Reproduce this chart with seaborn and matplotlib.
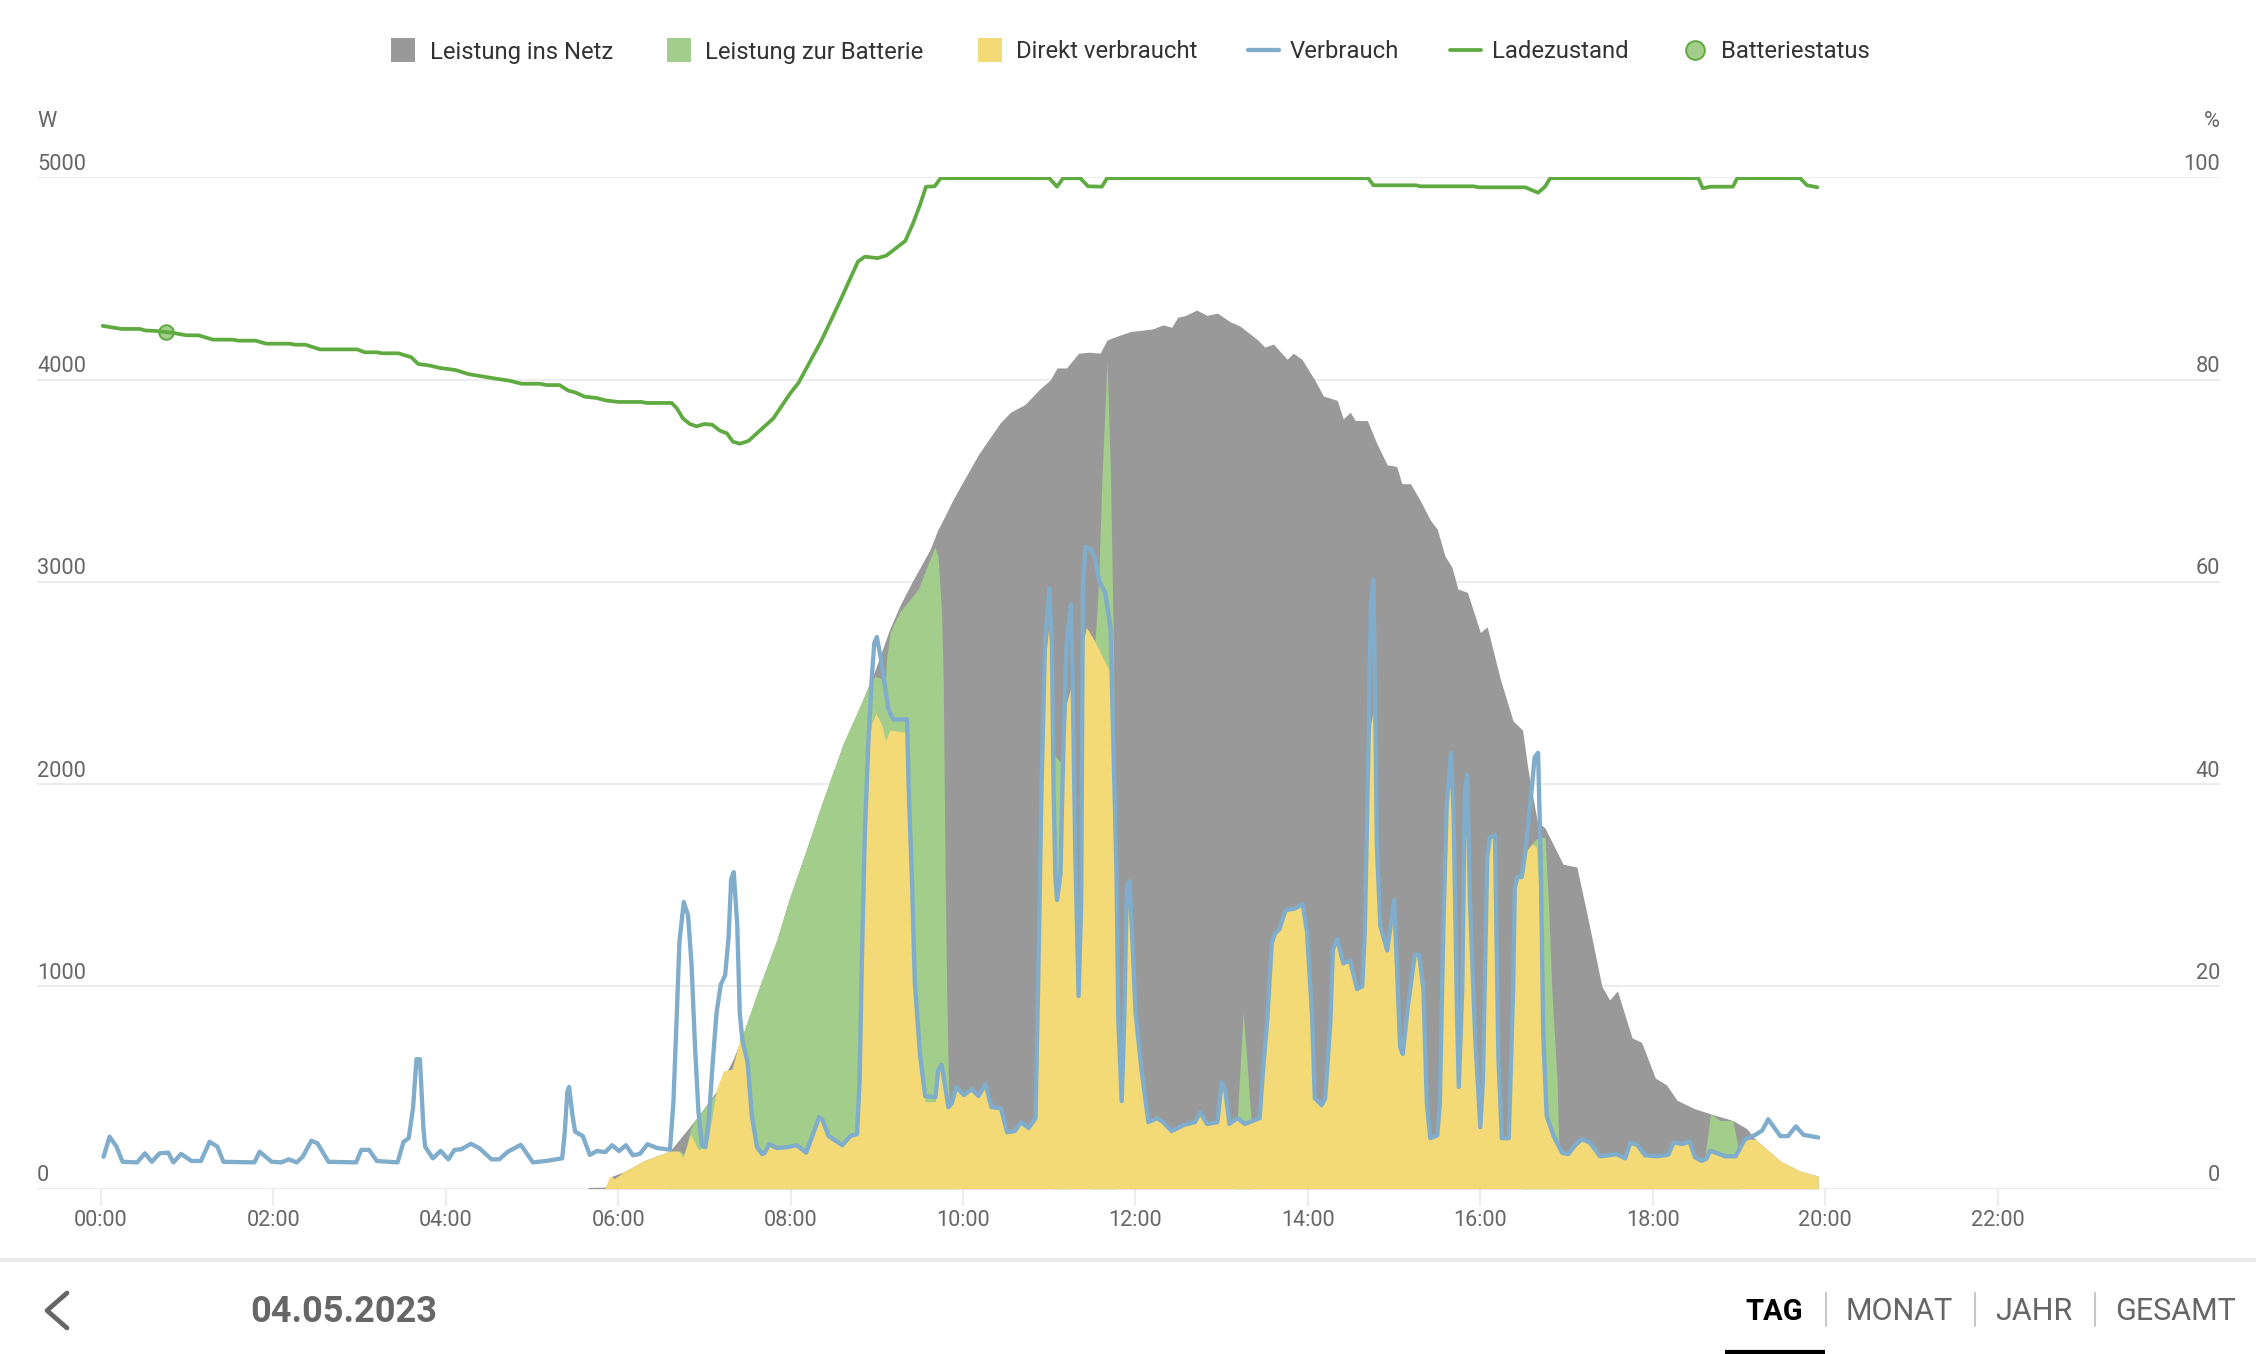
"""PV day view for 04.05.2023: power flows (W) and battery charge state (%)."""

import matplotlib
matplotlib.use("Agg")
import matplotlib.pyplot as plt
from matplotlib.lines import Line2D
from matplotlib.transforms import ScaledTranslation
import pandas as pd
import seaborn as sns

# Gesamtleistung (top of the grey area)
gesamt_h = [5.65, 5.85, 5.93, 6.06, 6.14, 6.29, 6.6, 6.91, 7.14, 7.33, 7.44, 7.64, 7.84, 7.99,
            8.19, 8.38, 8.61, 8.81, 8.98, 9.15, 9.27, 9.42, 9.62, 9.7, 9.79, 9.88, 9.98, 10.18,
            10.43, 10.55, 10.72, 10.89, 11.01, 11.09, 11.2, 11.34, 11.47, 11.59, 11.67, 11.76, 11.94,
            12.2, 12.32, 12.42, 12.49, 12.57, 12.71, 12.83, 12.95, 13.1, 13.21, 13.42, 13.5,
            13.6, 13.76, 13.83, 13.93, 14.08, 14.18, 14.34, 14.41, 14.49, 14.55, 14.69, 14.8,
            14.92, 15.03, 15.09, 15.19, 15.3, 15.42, 15.5, 15.59, 15.67, 15.74, 15.85, 16.0,
            16.08, 16.23, 16.38, 16.49, 16.55, 16.66, 16.75, 16.96, 17.12, 17.24, 17.41, 17.5,
            17.59, 17.76, 17.87, 18.03, 18.16, 18.28, 18.47, 18.67, 18.93, 19.09, 19.19, 19.33,
            19.48, 19.71, 19.92]
gesamt_w = [6, 8, 62, 83, 100, 137, 186, 349, 482, 637, 755, 1000, 1230, 1440,
            1685, 1925, 2200, 2390, 2565, 2767, 2885, 3008, 3162, 3250, 3325, 3403, 3480, 3630,
            3785, 3838, 3877, 3953, 3997, 4057, 4057, 4130, 4135, 4130, 4195, 4210, 4237,
            4250, 4270, 4258, 4308, 4315, 4343, 4317, 4328, 4285, 4265, 4195, 4160,
            4175, 4100, 4130, 4100, 3997, 3918, 3897, 3805, 3838, 3797, 3797, 3683,
            3578, 3570, 3485, 3485, 3404, 3305, 3260, 3127, 3073, 2964, 2948, 2750,
            2777, 2522, 2312, 2267, 2080, 1817, 1783, 1604, 1590, 1352, 1000, 933,
            978, 745, 724, 547, 513, 438, 398, 370, 337, 297, 245, 192,
            136, 87, 62]

# Leistung zur Batterie (green area, stacked on the direct share)
batterie_h = [6.55, 6.6, 6.72, 6.77, 6.84, 6.91, 7.0, 7.14, 7.2, 7.38, 7.41, 7.44, 7.64, 7.84,
              7.99, 8.19, 8.38, 8.61, 8.81, 8.9, 8.98, 9.06, 9.1, 9.11, 9.15, 9.19, 9.27, 9.48,
              9.58, 9.67, 9.71, 9.75, 9.77, 9.79, 9.81, 9.83, 9.84, 9.85,
              11.04, 11.05, 11.14, 11.15,
              11.5, 11.53, 11.57, 11.61, 11.67, 11.71, 11.74, 11.75, 11.76,
              13.17, 13.18, 13.25, 13.34, 13.35,
              16.5, 16.54, 16.6, 16.65, 16.75, 16.79, 16.83, 16.89, 16.91, 16.92,
              18.59, 18.6, 18.67, 18.78, 18.93, 18.99, 19.0]
batterie_w = [0, 186, 186, 165, 300, 349, 400, 470, 400, 500, 735, 755, 1000, 1230,
              1440, 1685, 1925, 2200, 2390, 2480, 2533, 2520, 2500, 2610, 2740, 2786, 2853, 2964,
              3073, 3172, 3126, 2850, 2522, 1640, 978, 537, 403, 0,
              0, 2150, 2100, 0,
              0, 2705, 2975, 3500, 4095, 3540, 2775, 2400, 0,
              0, 349, 873, 349, 0,
              0, 1673, 1705, 1730, 1738, 1417, 978, 537, 225, 0,
              0, 137, 370, 337, 337, 205, 0]

# Direkt verbraucht (yellow area)
direkt_h = [5.85, 5.9, 5.96, 6.06, 6.14, 6.29, 6.6, 6.7, 6.75, 6.84, 6.93, 7.03, 7.14, 7.22, 7.32,
            7.41, 7.44, 7.5, 7.55, 7.61, 7.67, 7.7, 7.75, 7.84, 7.96, 8.07, 8.18, 8.26, 8.33, 8.37,
            8.44, 8.6, 8.69, 8.77, 8.8, 8.83, 8.86, 8.9, 8.94, 8.99, 9.06, 9.1, 9.15, 9.35, 9.37,
            9.41, 9.44, 9.5, 9.56, 9.68, 9.71, 9.75, 9.79, 9.83, 9.87, 9.92, 10.01, 10.1, 10.18,
            10.26, 10.33, 10.44, 10.51, 10.6, 10.67, 10.76, 10.84, 10.87, 10.91, 10.95, 11.0,
            11.03, 11.05, 11.07, 11.09, 11.13, 11.16, 11.2, 11.25, 11.27, 11.3, 11.34, 11.37,
            11.39, 11.43, 11.53, 11.63, 11.71, 11.74, 11.78, 11.8, 11.84, 11.87, 11.9, 11.93,
            11.96, 12.0, 12.07, 12.15, 12.25, 12.32, 12.42, 12.56, 12.69, 12.75, 12.83, 12.95,
            13.0, 13.04, 13.09, 13.18, 13.27, 13.44, 13.48, 13.53, 13.58, 13.62, 13.67, 13.74,
            13.85, 13.94, 13.99, 14.05, 14.08, 14.16, 14.2, 14.26, 14.29, 14.34, 14.41, 14.49,
            14.57, 14.63, 14.66, 14.7, 14.73, 14.76, 14.78, 14.8, 14.84, 14.92, 14.95, 15.0,
            15.03, 15.07, 15.1, 15.16, 15.24, 15.29, 15.34, 15.38, 15.42, 15.5, 15.53, 15.57,
            15.61, 15.66, 15.69, 15.73, 15.75, 15.79, 15.82, 15.85, 15.88, 15.94, 16.0, 16.03,
            16.08, 16.11, 16.17, 16.21, 16.25, 16.33, 16.38, 16.4, 16.43, 16.48, 16.54, 16.6,
            16.65, 16.7, 16.73, 16.77, 16.85, 16.95, 17.02, 17.1, 17.18, 17.27, 17.39, 17.49,
            17.58, 17.68, 17.74, 17.82, 17.91, 18.05, 18.18, 18.24, 18.34, 18.43, 18.49, 18.57,
            18.62, 18.67, 18.84, 18.96, 19.07, 19.19, 19.33, 19.48, 19.71, 19.92]
direkt_w = [5, 62, 50, 83, 100, 137, 186, 186, 155, 270, 193, 205, 492, 582, 591,
            735, 735, 625, 360, 205, 171, 178, 220, 201, 205, 215, 178, 270, 354, 339,
            260, 215, 260, 270, 537, 1200, 1748, 2192, 2300, 2350, 2290, 2213, 2267, 2256, 1970,
            1487, 1020, 666, 430, 430, 582, 612, 512, 403, 423, 503, 463, 492, 458,
            517, 403, 398, 279, 285, 329, 300, 349, 987, 1981, 2600, 2800,
            2600, 1981, 1555, 1427, 1555, 2123, 2400, 2480, 2400, 1698, 952, 1412,
            2700, 2775, 2705, 2617, 2550, 2262, 1555, 843, 433, 843, 1496, 1520,
            1270, 873, 588, 329, 349, 329, 285, 315, 329, 378, 320, 329,
            527, 492, 320, 349, 320, 349, 588, 843, 1213, 1263, 1283, 1377,
            1385, 1407, 1270, 843, 447, 413, 447, 818, 1183, 1235, 1114, 1128,
            987, 1000, 1270, 2123, 2300, 2365, 2300, 1698, 1300, 1178, 1270, 1427,
            1128, 700, 666, 903, 1157, 1157, 987, 419, 250, 264, 419, 1270,
            1896, 2100, 1860, 868, 503, 978, 1970, 2000, 1417, 755, 304, 537,
            1640, 1735, 1748, 645, 250, 250, 978, 1487, 1540, 1540, 1673, 1705,
            1690, 1300, 755, 360, 260, 177, 171, 215, 245, 228, 160, 165,
            171, 150, 228, 217, 165, 160, 168, 228, 221, 233, 155, 137,
            148, 188, 160, 160, 245, 245, 192, 136, 87, 62]

# Verbrauch (blue line)
verbrauch_h = [0.03, 0.1, 0.18, 0.25, 0.42, 0.51, 0.59, 0.68, 0.78, 0.84, 0.93, 1.05, 1.16, 1.26,
               1.35, 1.42, 1.78, 1.84, 1.98, 2.09, 2.18, 2.27, 2.34, 2.44, 2.51, 2.64, 2.96, 3.02,
               3.11, 3.2, 3.44, 3.51, 3.57, 3.62, 3.66, 3.7, 3.74, 3.76, 3.85, 3.94, 4.03, 4.1,
               4.18, 4.29, 4.39, 4.53, 4.62, 4.72, 4.87, 5.01, 5.16, 5.35, 5.38, 5.41, 5.43, 5.47,
               5.5, 5.59, 5.67, 5.75, 5.85, 5.93, 6.01, 6.09, 6.17, 6.25, 6.34, 6.45, 6.6, 6.64,
               6.68, 6.71, 6.76, 6.81, 6.85, 6.89, 6.93, 6.97, 7.01, 7.05, 7.1, 7.14, 7.19, 7.24,
               7.28, 7.31, 7.34, 7.38, 7.41, 7.44, 7.5, 7.55, 7.61, 7.67, 7.7, 7.75, 7.84, 7.96,
               8.07, 8.18, 8.26, 8.33, 8.37, 8.44, 8.6, 8.69, 8.77, 8.8, 8.83, 8.86, 8.9, 8.94,
               8.97, 9.0, 9.06, 9.13, 9.19, 9.35, 9.37, 9.41, 9.44, 9.5, 9.56, 9.68, 9.71, 9.75,
               9.79, 9.83, 9.87, 9.92, 10.01, 10.1, 10.18, 10.26, 10.33, 10.44, 10.51, 10.6, 10.67,
               10.76, 10.84, 10.87, 10.91, 10.95, 11.0, 11.03, 11.05, 11.07, 11.09, 11.13, 11.16,
               11.2, 11.25, 11.27, 11.3, 11.34, 11.37, 11.39, 11.42, 11.49, 11.53, 11.58, 11.65,
               11.71, 11.74, 11.78, 11.8, 11.84, 11.87, 11.9, 11.93, 11.96, 12.0, 12.07, 12.15,
               12.25, 12.32, 12.42, 12.56, 12.69, 12.75, 12.83, 12.95, 13.0, 13.04, 13.09, 13.18,
               13.27, 13.44, 13.48, 13.53, 13.58, 13.62, 13.67, 13.74, 13.85, 13.94, 13.99, 14.05,
               14.08, 14.16, 14.2, 14.26, 14.29, 14.34, 14.41, 14.49, 14.57, 14.63, 14.66, 14.7,
               14.73, 14.76, 14.78, 14.8, 14.84, 14.92, 14.95, 15.0, 15.03, 15.07, 15.1, 15.16,
               15.24, 15.29, 15.34, 15.38, 15.42, 15.5, 15.53, 15.57, 15.61, 15.66, 15.69, 15.73,
               15.75, 15.79, 15.82, 15.85, 15.88, 15.94, 16.0, 16.03, 16.08, 16.11, 16.17, 16.21,
               16.25, 16.33, 16.38, 16.4, 16.43, 16.48, 16.52, 16.6, 16.63, 16.67, 16.7, 16.73,
               16.77, 16.85, 16.95, 17.02, 17.1, 17.18, 17.27, 17.39, 17.49, 17.58, 17.68, 17.74,
               17.82, 17.91, 18.05, 18.18, 18.24, 18.34, 18.43, 18.49, 18.57, 18.62, 18.67, 18.84,
               18.96, 19.07, 19.19, 19.27, 19.34, 19.48, 19.57, 19.66, 19.75, 19.92]
verbrauch_w = [158, 257, 208, 133, 130, 175, 133, 175, 178, 130, 172, 137, 137, 232,
               208, 133, 130, 183, 133, 130, 145, 130, 158, 237, 225, 133, 130, 192,
               192, 137, 130, 232, 250, 400, 640, 640, 300, 208, 150, 187, 145, 192,
               195, 222, 200, 145, 145, 183, 217, 130, 137, 150, 280, 480, 503, 360,
               282, 260, 167, 186, 181, 215, 186, 215, 165, 172, 220, 201, 193, 425,
               868, 1220, 1417, 1352, 1110, 710, 383, 215, 205, 340, 645, 868, 1010, 1055,
               1243, 1530, 1565, 1308, 868, 735, 625, 360, 205, 171, 178, 220, 201, 205,
               215, 178, 270, 354, 339, 260, 215, 260, 270, 537, 1200, 1748, 2192, 2518,
               2697, 2727, 2588, 2375, 2320, 2320, 1970, 1487, 1020, 666, 458, 453, 582, 612,
               512, 403, 423, 503, 463, 492, 458, 517, 403, 398, 279, 285, 329,
               300, 349, 987, 1981, 2692, 2966, 2692, 1981, 1555, 1427, 1555, 2123,
               2692, 2890, 2550, 1698, 952, 1412, 2973, 3172, 3157, 3117, 3002, 2944,
               2775, 2262, 1555, 843, 433, 843, 1496, 1520, 1270, 873, 588, 329,
               349, 329, 285, 315, 329, 378, 320, 329, 527, 492, 320, 349,
               320, 349, 588, 843, 1213, 1263, 1283, 1377, 1385, 1407, 1270, 843,
               447, 413, 447, 818, 1183, 1235, 1114, 1128, 987, 1000, 1270, 2123,
               2890, 3010, 2408, 1698, 1300, 1178, 1270, 1427, 1128, 700, 666, 903,
               1157, 1157, 987, 419, 250, 264, 419, 1270, 1896, 2155, 1860, 868,
               503, 978, 1970, 2045, 1417, 755, 304, 537, 1640, 1735, 1748, 645,
               250, 250, 978, 1487, 1540, 1540, 1660, 1990, 2133, 2155, 1640, 755,
               360, 260, 177, 171, 215, 245, 228, 160, 165, 171, 150, 228,
               217, 165, 160, 168, 228, 221, 233, 155, 137, 148, 188, 160,
               160, 245, 266, 288, 343, 260, 260, 308, 266, 253]

# Ladezustand (green line, right axis)
ladezustand_h = [0.02, 0.24, 0.45, 0.51, 0.63, 0.82, 0.99, 1.13, 1.3, 1.53, 1.59, 1.79, 1.92, 2.19,
                 2.25, 2.37, 2.54, 2.97, 3.06, 3.2, 3.26, 3.45, 3.6, 3.68, 3.82, 3.93, 4.11, 4.26,
                 4.51, 4.74, 4.88, 5.09, 5.17, 5.32, 5.42, 5.5, 5.61, 5.75, 5.85, 6.0, 6.27, 6.33,
                 6.62, 6.68, 6.75, 6.83, 6.91, 7.0, 7.09, 7.18, 7.26, 7.33, 7.41, 7.51, 7.8, 7.99,
                 8.09, 8.36, 8.57, 8.78, 8.86, 9.01, 9.11, 9.33, 9.42, 9.5, 9.57, 9.67, 9.74, 11.0,
                 11.09, 11.16, 11.36, 11.45, 11.61, 11.67, 14.7, 14.76, 15.26, 15.3, 15.92, 15.98,
                 16.52, 16.67, 16.75, 16.81, 18.53, 18.58, 18.67, 18.93, 18.98, 19.71, 19.79, 19.91]
ladezustand_p = [85.3, 85.0, 85.0, 84.85, 84.8, 84.63, 84.37, 84.37, 83.94, 83.94, 83.84, 83.84, 83.54, 83.54,
                 83.44, 83.44, 82.98, 82.98, 82.69, 82.69, 82.59, 82.59, 82.2, 81.53, 81.37, 81.14, 80.94, 80.54,
                 80.18, 79.88, 79.58, 79.58, 79.45, 79.45, 78.9, 78.73, 78.3, 78.17, 77.94, 77.78, 77.78, 77.68,
                 77.68, 77.15, 76.16, 75.6, 75.37, 75.6, 75.53, 74.94, 74.68, 73.85, 73.65, 73.92, 76.16, 78.57,
                 79.65, 83.9, 87.7, 91.65, 92.14, 92.0, 92.25, 93.7, 95.44, 97.25, 99.06, 99.1, 99.9, 99.9,
                 99.06, 99.9, 99.9, 99.1, 99.06, 99.9, 99.9, 99.2, 99.2, 99.1, 99.1, 99.0,
                 99.0, 98.47, 99.06, 99.9, 99.9, 98.9, 99.06, 99.06, 99.9, 99.9, 99.2, 99.0]

# Batteriestatus marker
status_h = [0.75]
status_p = [84.7]

watt_ticks = [0, 1000, 2000, 3000, 4000, 5000]
prozent_ticks = [0, 20, 40, 60, 80, 100]
stunden_ticks = [0, 2, 4, 6, 8, 10, 12, 14, 16, 18, 20, 22]
stunden_labels = ["00:00", "02:00", "04:00", "06:00", "08:00", "10:00",
                  "12:00", "14:00", "16:00", "18:00", "20:00", "22:00"]

GRAU = "#999999"
GRUEN = "#A2CD8A"
GELB = "#F4D977"
BLAU = "#7FADCB"
LADE = "#5FAB41"
RASTER = "#ECECEC"
TEXT = "#666666"

sns.set_theme(style="white")
plt.rcParams["font.family"] = ["Roboto", "DejaVu Sans"]

W, H = 2256, 1354
fig = plt.figure(figsize=(W / 100, H / 100), dpi=100, facecolor="white")
left, right, top, bottom = 37, 2220, 177.2, 1188.7
ax = fig.add_axes([left / W, 1 - bottom / H, (right - left) / W, (bottom - top) / H])
ax.set_xlim(-0.742, 24.58)
ax.set_ylim(0, 5000)

# areas are painted back to front, each from the baseline
ax.fill_between(gesamt_h, gesamt_w, color=GRAU, linewidth=0, zorder=2)
ax.fill_between(batterie_h, batterie_w, color=GRUEN, linewidth=0, zorder=3)
ax.fill_between(direkt_h, direkt_w, color=GELB, linewidth=0, zorder=4)

verbrauch = pd.DataFrame({"h": verbrauch_h, "w": verbrauch_w})
sns.lineplot(data=verbrauch, x="h", y="w", ax=ax, color=BLAU, linewidth=3.1,
             estimator=None, zorder=5)

ax.set_xlabel("")
ax.set_ylabel("")
ax.set_xticks(stunden_ticks)
ax.set_xticklabels(stunden_labels)
ax.set_yticks(watt_ticks)
ax.yaxis.grid(True, color=RASTER, linewidth=1.5, zorder=1)
ax.set_axisbelow(True)
ax.tick_params(axis="x", length=12.5, width=1.5, color=RASTER, labelcolor=TEXT,
               labelsize=15.6, pad=2.5, bottom=True)
ax.tick_params(axis="y", length=0, labelcolor=TEXT, labelsize=15.7, pad=0)
for spine in ax.spines.values():
    spine.set_visible(False)

ax2 = ax.twinx()
ax2.set_ylim(0, 100)
ax2.set_yticks(prozent_ticks)
ax2.tick_params(axis="y", length=0, labelcolor=TEXT, labelsize=15.7, pad=0)
ax2.grid(False)
for spine in ax2.spines.values():
    spine.set_visible(False)

sns.scatterplot(x=status_h, y=status_p, ax=ax2, s=110, color=GRUEN, edgecolor=LADE,
                linewidth=1.4, zorder=6, legend=False)
ladezustand = pd.DataFrame({"h": ladezustand_h, "p": ladezustand_p})
sns.lineplot(data=ladezustand, x="h", y="p", ax=ax2, color=LADE, linewidth=2.7,
             estimator=None, zorder=7)
ax2.set_xlabel("")
ax2.set_ylabel("")

# y labels sit inside the plot, just above their grid line
hoch = ScaledTranslation(0, 5.4 / 72, fig.dpi_scale_trans)
for lab in ax.get_yticklabels():
    lab.set_ha("left")
    lab.set_va("baseline")
    lab.set_transform(lab.get_transform() + hoch)
for lab in ax2.get_yticklabels():
    lab.set_ha("right")
    lab.set_va("baseline")
    lab.set_transform(lab.get_transform() + hoch)

handles = [
    Line2D([], [], linestyle="None", marker="s", markersize=17.3, markerfacecolor=GRAU,
           markeredgewidth=0, label="Leistung ins Netz"),
    Line2D([], [], linestyle="None", marker="s", markersize=17.3, markerfacecolor=GRUEN,
           markeredgewidth=0, label="Leistung zur Batterie"),
    Line2D([], [], linestyle="None", marker="s", markersize=17.3, markerfacecolor=GELB,
           markeredgewidth=0, label="Direkt verbraucht"),
    Line2D([], [], color=BLAU, linewidth=3.1, label="Verbrauch"),
    Line2D([], [], color=LADE, linewidth=2.7, label="Ladezustand"),
    Line2D([], [], linestyle="None", marker="o", markersize=13.5, markerfacecolor=GRUEN,
           markeredgecolor=LADE, markeredgewidth=1.4, label="Batteriestatus"),
]
fig.legend(handles=handles, ncol=6, loc="center", bbox_to_anchor=(1129 / W, 1 - 52 / H),
           frameon=False, fontsize=17.2, labelcolor="#333333", handlelength=1.29,
           handletextpad=0.46, columnspacing=2.125, borderpad=0, borderaxespad=0, numpoints=1)

# footer and unit labels, laid out in image pixels
ui = fig.add_axes([0, 0, 1, 1], zorder=-1)
ui.set_xlim(0, W)
ui.set_ylim(H, 0)
ui.axis("off")
ui.text(37, 121.5, "W", color=TEXT, fontsize=15.7, ha="left", va="center")
ui.text(2220, 121.5, "%", color=TEXT, fontsize=15.7, ha="right", va="center")
ui.plot([0, W], [1260, 1260], color=RASTER, linewidth=2.9)
ui.plot([67, 47, 67], [1293, 1310.5, 1328], color=TEXT, linewidth=3.4)
ui.text(250, 1311.5, "04.05.2023", color=TEXT, fontsize=26, fontweight="bold", ha="left", va="center")
ui.text(1745, 1311.5, "TAG", color="black", fontsize=21, fontweight="bold", ha="left", va="center")
ui.text(1846, 1311.5, "MONAT", color=TEXT, fontsize=22, ha="left", va="center")
ui.text(1995, 1311.5, "JAHR", color=TEXT, fontsize=22, ha="left", va="center")
ui.text(2115, 1311.5, "GESAMT", color=TEXT, fontsize=22, ha="left", va="center")
for x in [1826, 1975, 2095]:
    ui.plot([x, x], [1293, 1326], color="#C8C8C8", linewidth=1.5)
ui.plot([1725, 1825], [1352, 1352], color="black", linewidth=3, solid_capstyle="butt")

fig.savefig("out.png", dpi=100, facecolor="white")
